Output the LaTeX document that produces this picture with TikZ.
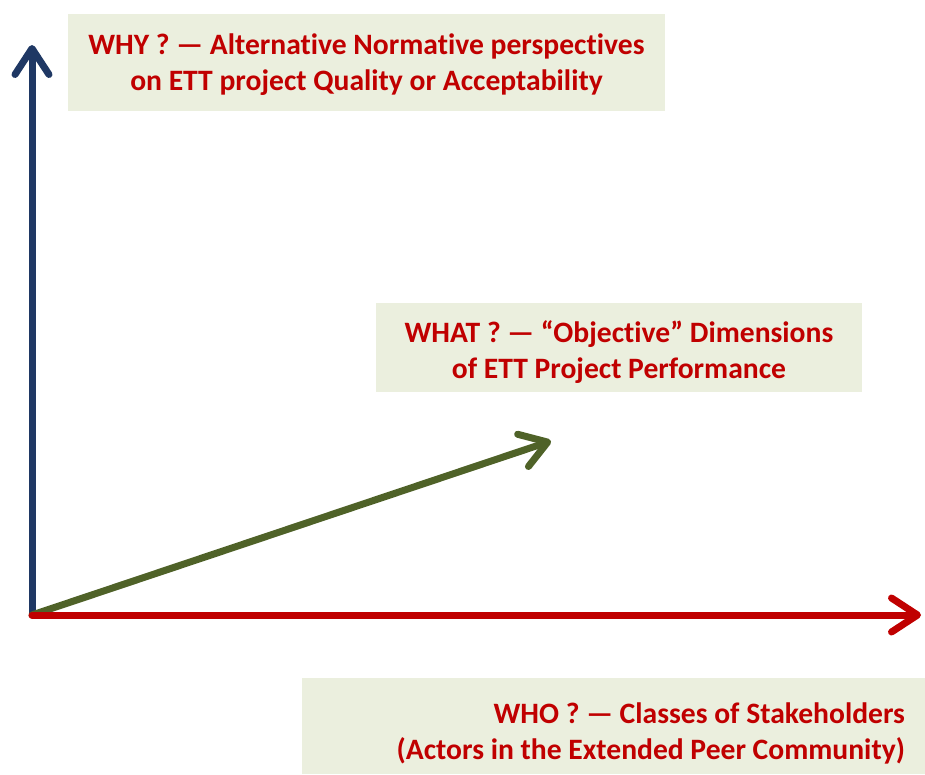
\documentclass[tikz,border=0pt]{standalone}
\usepackage{fontspec}
\setmainfont{Carlito}[Ligatures=NoCommon]
\usetikzlibrary{arrows.meta}
\definecolor{whycol}{RGB}{31,56,100}
\definecolor{whocol}{RGB}{192,0,0}
\definecolor{whatcol}{RGB}{79,98,40}
\definecolor{askfill}{RGB}{235,239,222}

\begin{document}
\begin{tikzpicture}[x=1pt,y=-1pt,
	axis/.style={line width=7pt, line cap=round,
		-{Straight Barb[length=26pt,width=34pt,round]}},
	askbox/.style={fill=askfill, inner sep=0pt},
	asktext/.style={text=whocol, inner sep=0pt,
		font=\fontsize{29.6}{36}\selectfont\bfseries}]
	\useasboundingbox (0,0) rectangle (925,774);
	% axes
	\coordinate (origin) at (32,615);
	\coordinate (why tip) at (32,45);
	\coordinate (who tip) at (921,615);
	\coordinate (what tip) at (551,441);
	\draw[axis, whycol] (origin) -- (why tip);
	\draw[axis, whatcol] (origin) -- (what tip);
	\draw[axis, whocol] (origin) -- (who tip);
	% question boxes
	\node[askbox, minimum width=597pt, minimum height=97pt] (why box) at (366.5,62.5) {};
	\node[askbox, minimum width=486pt, minimum height=89pt] (what box) at (619,347.5) {};
	\node[askbox, minimum width=623pt, minimum height=96pt] (who box) at (613.5,726) {};
	\node[asktext, align=center] (why) at ([yshift=-2.5pt]why box.center)
		{WHY ? — Alternative Normative perspectives\\on ETT project Quality or Acceptability};
	\node[asktext, align=center] (what) at ([yshift=-5pt]what box.center)
		{WHAT ? — “Objective” Dimensions\\of ETT Project Performance};
	\node[asktext, align=flush right, anchor=east] (who) at ([xshift=-20pt,yshift=-7pt]who box.east)
		{WHO ? — Classes of Stakeholders\\(Actors in the Extended Peer Community)};
\end{tikzpicture}
\end{document}
